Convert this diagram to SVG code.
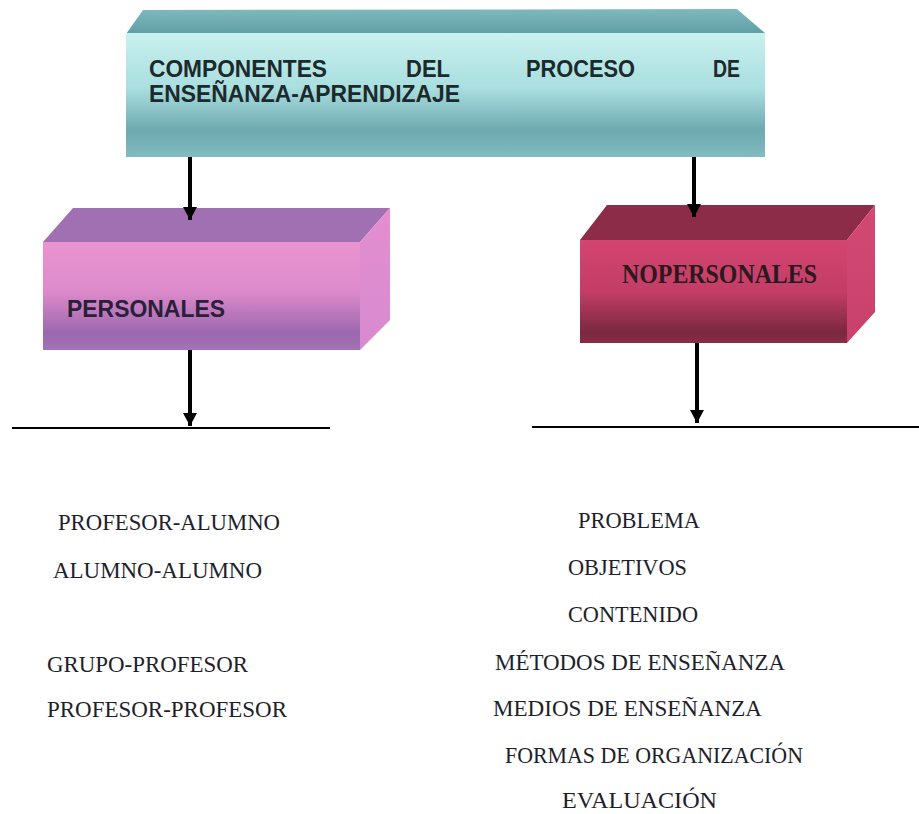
<svg xmlns="http://www.w3.org/2000/svg" width="919" height="814" viewBox="0 0 919 814">
<style>
.hdr{font-family:"Liberation Sans",Arial,sans-serif;font-weight:bold;font-size:23px;fill:#1c2a2c}
.lbl{font-family:"Liberation Sans",Arial,sans-serif;font-weight:bold;font-size:24px;fill:#2a2038}
.lblr{font-family:"Liberation Serif","Times New Roman",serif;font-weight:bold;font-size:27px;fill:#2a1a1e}
.item{font-family:"Liberation Serif","Times New Roman",serif;font-size:23px;fill:#1e1e2c}
.conn{stroke:#000;stroke-width:4;fill:none}
.rule{stroke:#000;stroke-width:2;fill:none}
</style>
<defs>
<marker id="ah" markerUnits="userSpaceOnUse" markerWidth="16" markerHeight="16" refX="13" refY="7" orient="auto">
<path d="M0,0 L13,7 L0,14 Z" fill="#000"/>
</marker>
<linearGradient id="gTopFront" x1="0" y1="0" x2="0" y2="1">
<stop offset="0" stop-color="#c9f1ef"/>
<stop offset="0.45" stop-color="#a9dedf"/>
<stop offset="0.78" stop-color="#6ea9b0"/>
<stop offset="1" stop-color="#82bbc0"/>
</linearGradient>
<linearGradient id="gTopTop" x1="0" y1="0" x2="0" y2="1">
<stop offset="0" stop-color="#7fb9bd"/>
<stop offset="1" stop-color="#5f9ea6"/>
</linearGradient>
<linearGradient id="gPFront" x1="0" y1="0" x2="0" y2="1">
<stop offset="0" stop-color="#ea93d1"/>
<stop offset="0.45" stop-color="#dd8bcb"/>
<stop offset="0.85" stop-color="#9c67ae"/>
<stop offset="1" stop-color="#a473b8"/>
</linearGradient>
<linearGradient id="gPSide" x1="0" y1="0" x2="0" y2="1">
<stop offset="0" stop-color="#e38ed0"/>
<stop offset="1" stop-color="#d88ad0"/>
</linearGradient>
<linearGradient id="gRFront" x1="0" y1="0" x2="0" y2="1">
<stop offset="0" stop-color="#d44571"/>
<stop offset="0.5" stop-color="#c33d67"/>
<stop offset="0.9" stop-color="#7a2840"/>
<stop offset="1" stop-color="#8a2c48"/>
</linearGradient>
<linearGradient id="gRSide" x1="0" y1="0" x2="0" y2="1">
<stop offset="0" stop-color="#d24a74"/>
<stop offset="1" stop-color="#c8406c"/>
</linearGradient>
</defs>
<rect width="919" height="814" fill="#fff"/>

<g id="node-componentes">
<polygon points="126,34 143,10 737,9 765,33" fill="url(#gTopTop)"/>
<rect x="126" y="33" width="639" height="124" fill="url(#gTopFront)"/>
<text class="hdr" x="149" y="77" textLength="178" lengthAdjust="spacingAndGlyphs">COMPONENTES</text>
<text class="hdr" x="406" y="77" textLength="44" lengthAdjust="spacingAndGlyphs">DEL</text>
<text class="hdr" x="526" y="77" textLength="109" lengthAdjust="spacingAndGlyphs">PROCESO</text>
<text class="hdr" x="713" y="77" textLength="27" lengthAdjust="spacingAndGlyphs">DE</text>
<text class="hdr" x="149" y="102" textLength="311" lengthAdjust="spacingAndGlyphs">ENSEÑANZA-APRENDIZAJE</text>
</g>

<g id="node-personales">
<polygon points="43,242 73,208 390,208 360,242" fill="#a170b3"/>
<polygon points="360,242 390,208 390,320 360,350" fill="url(#gPSide)"/>
<rect x="43" y="242" width="317" height="108" fill="url(#gPFront)"/>
<text class="lbl" x="67" y="317" textLength="158" lengthAdjust="spacingAndGlyphs">PERSONALES</text>
</g>

<g id="node-nopersonales">
<polygon points="580,240 607,205 875,205 847,240" fill="#8c2c48"/>
<polygon points="847,240 875,205 875,312 847,343" fill="url(#gRSide)"/>
<rect x="580" y="240" width="267" height="103" fill="url(#gRFront)"/>
<text class="lblr" x="622" y="283" textLength="195" lengthAdjust="spacingAndGlyphs">NOPERSONALES</text>
</g>

<g id="connectors">
<line class="conn" x1="190" y1="157" x2="190" y2="220" marker-end="url(#ah)"/>
<line class="conn" x1="694" y1="157" x2="694" y2="217" marker-end="url(#ah)"/>
<line class="conn" x1="190" y1="350" x2="190" y2="426" marker-end="url(#ah)"/>
<line class="conn" x1="697" y1="343" x2="697" y2="423" marker-end="url(#ah)"/>
<line class="rule" x1="12" y1="428" x2="330" y2="428"/>
<line class="rule" x1="532" y1="427" x2="919" y2="427"/>
</g>

<g id="list-personales">
<text class="item" x="58" y="530" textLength="222" lengthAdjust="spacingAndGlyphs">PROFESOR-ALUMNO</text>
<text class="item" x="53" y="578" textLength="209" lengthAdjust="spacingAndGlyphs">ALUMNO-ALUMNO</text>
<text class="item" x="47" y="672" textLength="201" lengthAdjust="spacingAndGlyphs">GRUPO-PROFESOR</text>
<text class="item" x="47" y="717" textLength="240" lengthAdjust="spacingAndGlyphs">PROFESOR-PROFESOR</text>
</g>

<g id="list-nopersonales">
<text class="item" x="578" y="528" textLength="122" lengthAdjust="spacingAndGlyphs">PROBLEMA</text>
<text class="item" x="568" y="575" textLength="119" lengthAdjust="spacingAndGlyphs">OBJETIVOS</text>
<text class="item" x="568" y="622" textLength="130" lengthAdjust="spacingAndGlyphs">CONTENIDO</text>
<text class="item" x="495" y="670" textLength="290" lengthAdjust="spacingAndGlyphs">MÉTODOS DE ENSEÑANZA</text>
<text class="item" x="493" y="716" textLength="269" lengthAdjust="spacingAndGlyphs">MEDIOS DE ENSEÑANZA</text>
<text class="item" x="505" y="763" textLength="298" lengthAdjust="spacingAndGlyphs">FORMAS DE ORGANIZACIÓN</text>
<text class="item" x="562" y="808" textLength="155" lengthAdjust="spacingAndGlyphs">EVALUACIÓN</text>
</g>
</svg>
